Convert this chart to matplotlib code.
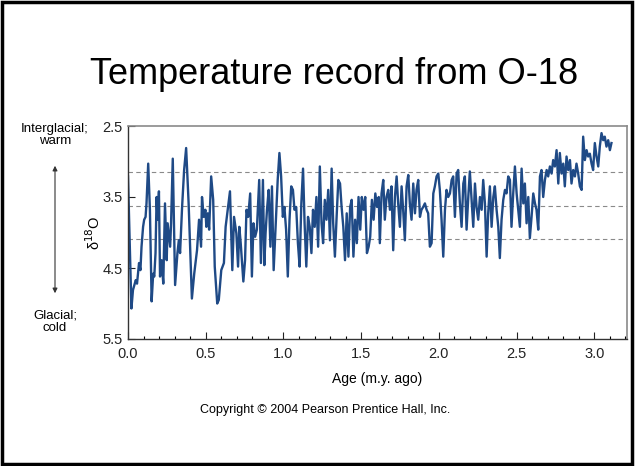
import matplotlib
matplotlib.use("Agg")
import matplotlib.pyplot as plt
from matplotlib.patches import Rectangle, FancyArrowPatch

plt.rcParams['font.family'] = ['Liberation Sans', 'DejaVu Sans']

age = [0.000, 0.022, 0.032, 0.050, 0.058, 0.071, 0.080, 0.087, 0.097, 0.104,
       0.113, 0.119, 0.130, 0.141, 0.152, 0.162, 0.169, 0.177, 0.184, 0.190,
       0.199, 0.206, 0.216, 0.227, 0.238, 0.249, 0.255, 0.264, 0.271, 0.277,
       0.288, 0.303, 0.318, 0.327, 0.335, 0.348, 0.361, 0.374, 0.390, 0.411,
       0.426, 0.444, 0.457, 0.470, 0.476, 0.487, 0.498, 0.504, 0.513, 0.522,
       0.535, 0.548, 0.558, 0.574, 0.584, 0.600, 0.617, 0.628, 0.656, 0.671,
       0.682, 0.697, 0.708, 0.716, 0.725, 0.742, 0.753, 0.762, 0.773, 0.786,
       0.797, 0.807, 0.818, 0.829, 0.844, 0.855, 0.868, 0.877, 0.885, 0.894,
       0.905, 0.916, 0.926, 0.937, 0.952, 0.963, 0.974, 0.985, 0.996, 1.006,
       1.017, 1.028, 1.039, 1.050, 1.061, 1.071, 1.082, 1.093, 1.104, 1.115,
       1.126, 1.136, 1.147, 1.158, 1.169, 1.180, 1.190, 1.201, 1.212, 1.223,
       1.234, 1.245, 1.255, 1.266, 1.277, 1.288, 1.299, 1.310, 1.320, 1.331,
       1.342, 1.353, 1.364, 1.374, 1.385, 1.396, 1.407, 1.418, 1.429, 1.439,
       1.450, 1.461, 1.472, 1.483, 1.494, 1.504, 1.515, 1.526, 1.537, 1.548,
       1.558, 1.569, 1.580, 1.591, 1.602, 1.613,
       1.620, 1.631, 1.642, 1.652, 1.663, 1.674, 1.685, 1.695, 1.706, 1.717,
       1.728, 1.738, 1.749, 1.760, 1.770, 1.781, 1.792, 1.803, 1.813, 1.824,
       1.835, 1.846, 1.856, 1.867, 1.878, 1.888, 1.899, 1.910, 1.921, 1.931,
       1.942, 1.953, 1.964, 1.974, 1.985, 1.996, 2.006, 2.017, 2.028, 2.039,
       2.049, 2.060, 2.071, 2.082, 2.092, 2.103, 2.114, 2.124, 2.135, 2.146,
       2.157, 2.167, 2.178, 2.189, 2.199, 2.210, 2.221, 2.232, 2.242, 2.253,
       2.264, 2.275, 2.285, 2.296, 2.307, 2.317, 2.328, 2.339, 2.350, 2.360,
       2.371, 2.382, 2.392, 2.403, 2.414, 2.425, 2.435, 2.446, 2.457, 2.467,
       2.478, 2.489, 2.500, 2.510, 2.521, 2.532, 2.543, 2.553, 2.564, 2.575,
       2.585, 2.596, 2.607, 2.618, 2.628, 2.639, 2.650, 2.660, 2.671, 2.682,
       2.693, 2.703, 2.714, 2.725, 2.735, 2.746, 2.757, 2.768, 2.778, 2.789,
       2.800, 2.810, 2.821, 2.832, 2.843, 2.853, 2.864, 2.875, 2.885, 2.896,
       2.907, 2.918, 2.928, 2.939, 2.950, 2.960, 2.971, 2.982, 2.992, 3.003,
       3.014, 3.025, 3.035, 3.046, 3.057, 3.067, 3.078, 3.089, 3.100, 3.110]

d18o = [3.21, 5.07, 4.81, 4.67, 4.72, 4.43, 4.53, 4.20, 3.92, 3.82,
        3.78, 3.59, 3.03, 3.68, 4.97, 4.58, 4.62, 4.29, 3.50, 3.82,
        3.42, 4.62, 4.39, 4.72, 3.59, 4.39, 3.87, 4.06, 4.20, 3.87,
        2.96, 4.74, 4.29, 4.11, 4.29, 3.64, 3.12, 2.81, 3.59, 4.93,
        4.58, 4.25, 3.82, 4.20, 3.50, 3.78, 3.68, 3.92, 3.73, 3.96,
        3.21, 3.54, 4.48, 5.00, 4.95, 4.53, 4.43, 3.92, 3.42, 4.53,
        3.78, 4.01, 4.48, 3.92, 4.15, 4.69, 4.39, 3.68, 3.78, 3.45,
        4.62, 3.87, 4.06, 3.96, 3.26, 4.43, 3.26, 4.46, 4.01, 3.68,
        3.40, 4.20, 3.35, 4.53, 3.78, 3.26, 2.88, 3.21, 3.78, 3.64,
        3.96, 4.62, 3.82, 3.35, 3.40, 3.68, 3.64, 4.15, 4.48, 3.59,
        3.10, 3.87, 4.48, 3.78, 3.92, 4.29, 3.68, 3.92, 3.50, 4.20,
        3.07, 3.87, 4.15, 3.54, 3.82, 3.40, 4.11, 3.10, 3.87, 4.34,
        3.78, 3.26, 3.31, 3.64, 3.92, 4.39, 3.73, 4.34, 3.64, 3.54,
        4.34, 3.82, 4.15, 3.50, 3.96, 3.50, 3.68, 3.50, 4.29, 4.20,
        4.06, 3.54, 3.82, 3.45, 3.64, 3.50,
        4.15, 3.45, 3.26, 3.82, 3.50, 3.40, 3.68, 3.35, 4.25, 3.50,
        3.21, 3.59, 3.92, 3.35, 3.68, 4.11, 3.35, 3.19, 3.59, 3.82,
        3.31, 3.73, 3.40, 3.26, 3.78, 3.68, 3.64, 3.59, 3.68, 3.73,
        4.20, 4.15, 3.45, 3.35, 3.21, 3.17, 3.40, 3.82, 4.34, 3.68,
        3.40, 3.50, 3.45, 3.26, 3.21, 3.78, 3.17, 3.12, 3.59, 3.92,
        3.31, 3.21, 3.96, 3.50, 3.14, 3.54, 3.92, 3.31, 3.64, 3.82,
        3.50, 3.68, 3.26, 3.59, 4.34, 3.73, 3.35, 3.92, 3.50, 3.35,
        3.68, 3.92, 4.36, 3.82, 3.54, 3.40, 3.45, 3.21, 3.26, 3.92,
        3.45, 3.07, 3.45, 3.68, 3.92, 3.10, 3.59, 3.31, 3.87, 3.50,
        4.08, 3.78, 3.45, 3.59, 3.68, 3.96, 3.21, 3.12, 3.50, 3.26,
        3.12, 3.21, 3.07, 3.17, 2.98, 3.07, 2.84, 3.31, 2.88, 3.17,
        3.03, 3.35, 2.93, 3.12, 2.98, 3.31, 3.12, 3.21, 3.03, 3.17,
        3.35, 3.40, 2.65, 2.98, 2.84, 2.93, 2.89, 3.03, 3.12, 2.74,
        2.93, 3.07, 2.79, 2.60, 2.70, 2.65, 2.79, 2.70, 2.84, 2.74]

ref_levels = [3.15, 3.63, 4.09]
x_ticks = [0.0, 0.5, 1.0, 1.5, 2.0, 2.5, 3.0]
y_ticks = [2.5, 3.5, 4.5, 5.5]

fig = plt.figure(figsize=(6.35, 4.66), dpi=100)
fig.patch.set_facecolor('white')
fig.patches.append(Rectangle((0.003, 0.004), 0.993, 0.992, transform=fig.transFigure,
                             fill=False, edgecolor='black', linewidth=2.5))

fig.text(334/635, 1-75/466, 'Temperature record from O-18', ha='center', va='center',
         fontsize=26, color='black')

ax = fig.add_axes([128/635, 1-339/466, (627-128)/635, (339-126)/466])
for lv in ref_levels:
    ax.axhline(lv, color='#8a8a8a', linestyle=(0, (4, 3)), linewidth=0.8, zorder=1)
ax.plot(age, d18o, color='#1f4a86', linewidth=1.7, zorder=2)

ax.set_xlim(0, 3.21)
ax.set_ylim(5.5, 2.5)
ax.set_xticks(x_ticks)
ax.set_xticklabels([f'{v:.1f}' for v in x_ticks])
ax.set_xticks([i / 10 for i in range(33)], minor=True)
ax.set_yticks(y_ticks)
ax.set_yticklabels([f'{v:.1f}' for v in y_ticks])
ax.tick_params(axis='both', which='major', direction='in', length=5, width=0.8,
               labelsize=10.5, colors='#222222')
ax.tick_params(axis='y', which='major', pad=4)
ax.tick_params(axis='x', which='minor', direction='in', length=2.5, width=0.8)
ax.tick_params(axis='x', which='major', pad=6)
for side in ['top', 'right']:
    ax.spines[side].set_color('#8a8a8a')
    ax.spines[side].set_linewidth(1.2)
for side in ['left', 'bottom']:
    ax.spines[side].set_color('#333333')
    ax.spines[side].set_linewidth(1.0)

ax.set_xlabel('Age (m.y. ago)', fontsize=10, labelpad=8)
ax.set_ylabel('\u03b4$^{18}$O', fontsize=10.5)
ax.yaxis.set_label_coords(-0.05, 0.5)

fig.text(55/635, 1-135/466, 'Interglacial;\nwarm', ha='center', va='center',
         fontsize=9.5, linespacing=1.1)
fig.text(55/635, 1-322/466, 'Glacial;\ncold', ha='center', va='center',
         fontsize=9.5, linespacing=1.1)
fig.patches.append(FancyArrowPatch(
    (55/635, 1-163/466), (55/635, 1-296/466), transform=fig.transFigure,
    arrowstyle='<|-|>', mutation_scale=7, color='#333333', linewidth=0.8))

fig.text(325/635, 1-410/466, 'Copyright \u00a9 2004 Pearson Prentice Hall, Inc.',
         ha='center', va='center', fontsize=9)

fig.savefig('out.png', dpi=100)
